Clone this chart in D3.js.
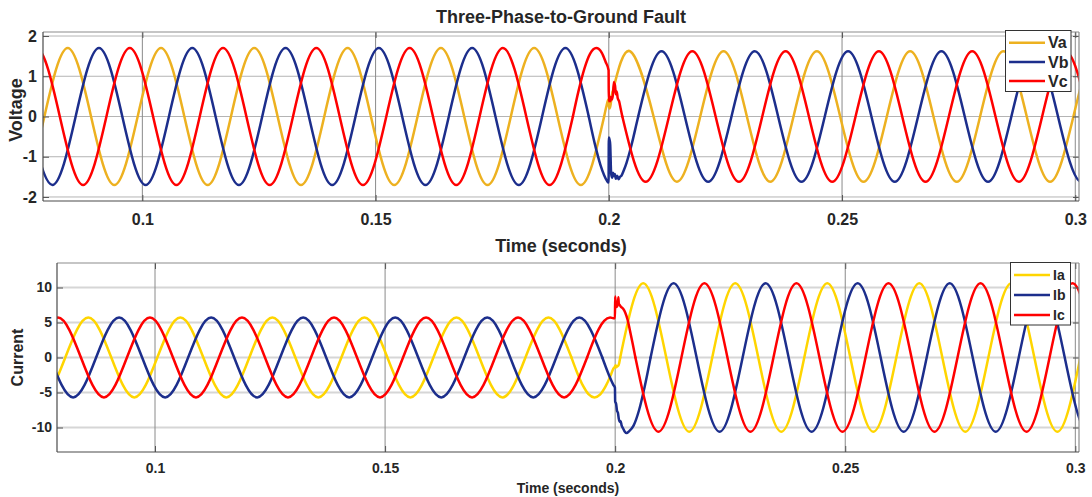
<!DOCTYPE html>
<html>
<head>
<meta charset="utf-8">
<script src="https://cdn.jsdelivr.net/npm/d3@7"></script>
<style>
  html, body { margin: 0; padding: 0; background: #ffffff; }
  svg { display: block; font-family: "Liberation Sans", Arial, sans-serif; }
</style>
</head>
<body>
<svg id="chart" width="1092" height="497"></svg>
<script>
// ---- Axis ranges and tick labels ----
const timeDomain = [0.0787, 0.3008];
const timeTicks = [0.1, 0.15, 0.2, 0.25, 0.3];
const voltageDomain = [-2.1, 2.1];
const voltageTicks = [-2, -1, 0, 1, 2];
const currentDomain = [-13.5, 13.5];
const currentTicks = [-10, -5, 0, 5, 10];
const voltageNames = ["Va", "Vb", "Vc"];
const currentNames = ["Ia", "Ib", "Ic"];

// ---- Phase voltages [time s, value] : before, during and after the fault ----
const vaPre = [[0.069,0],[0.074,-1.7],[0.079,0],[0.084,1.7],[0.089,0],[0.094,-1.7],[0.099,0],[0.104,1.7],[0.109,0],[0.114,-1.7],[0.119,0],[0.124,1.7],[0.129,0],[0.134,-1.7],[0.139,0],[0.144,1.7],[0.149,0],[0.154,-1.7],[0.159,0],[0.164,1.7],[0.169,0],[0.174,-1.7],[0.179,0],[0.184,1.7],[0.189,0],[0.194,-1.7],[0.199,0]];
const vaFault = [[0.199,0],[0.1995,0.26],[0.1999,0.42],[0.2000,0.28],[0.2002,0.2],[0.2004,0.3],[0.2006,0.5],[0.2008,0.6]];
const vaPost = [[0.2008,0.6],[0.2046,1.62],[0.2096,0],[0.2146,-1.62],[0.2196,0],[0.2246,1.62],[0.2296,0],[0.2346,-1.62],[0.2396,0],[0.2446,1.62],[0.2496,0],[0.2546,-1.62],[0.2596,0],[0.2646,1.62],[0.2696,0],[0.2746,-1.62],[0.2796,0],[0.2846,1.62],[0.2896,0],[0.2946,-1.62],[0.2996,0],[0.3046,1.62],[0.3096,0]];

const vbPre = [[0.0757,0],[0.0807,-1.7],[0.0857,0],[0.0907,1.7],[0.0957,0],[0.1007,-1.7],[0.1057,0],[0.1107,1.7],[0.1157,0],[0.1207,-1.7],[0.1257,0],[0.1307,1.7],[0.1357,0],[0.1407,-1.7],[0.1457,0],[0.1507,1.7],[0.1557,0],[0.1607,-1.7],[0.1657,0],[0.1707,1.7],[0.1757,0],[0.1807,-1.7],[0.1857,0],[0.1907,1.7],[0.1957,0]];
const vbFault = [[0.1957,0],[0.1970,-0.68],[0.1982,-1.2],[0.1990,-1.46],[0.1996,-1.6],[0.19995,-1.64],[0.2000,-0.52],[0.2002,-0.6],[0.2003,-0.7],[0.2005,-1.42],[0.2007,-1.52],[0.2009,-1.4],[0.2011,-1.48],[0.2013,-1.43],[0.2015,-1.55],[0.2018,-1.47],[0.2021,-1.56],[0.2024,-1.5],[0.2027,-1.47],[0.2032,-1.34],[0.2038,-1.15],[0.2045,-0.87],[0.2052,-0.55],[0.2058,-0.25],[0.2063,0]];
const vbPost = [[0.2063,0],[0.2113,1.62],[0.2163,0],[0.2213,-1.62],[0.2263,0],[0.2313,1.62],[0.2363,0],[0.2413,-1.62],[0.2463,0],[0.2513,1.62],[0.2563,0],[0.2613,-1.62],[0.2663,0],[0.2713,1.62],[0.2763,0],[0.2813,-1.62],[0.2863,0],[0.2913,1.62],[0.2963,0],[0.3013,-1.62],[0.3063,0]];

const vcPre = [[0.0723,0],[0.0773,1.7],[0.0823,0],[0.0873,-1.7],[0.0923,0],[0.0973,1.7],[0.1023,0],[0.1073,-1.7],[0.1123,0],[0.1173,1.7],[0.1223,0],[0.1273,-1.7],[0.1323,0],[0.1373,1.7],[0.1423,0],[0.1473,-1.7],[0.1523,0],[0.1573,1.7],[0.1623,0],[0.1673,-1.7],[0.1723,0],[0.1773,1.7],[0.1823,0],[0.1873,-1.7],[0.1923,0]];
const vcFault = [[0.1923,0],[0.1935,0.63],[0.1948,1.2],[0.1960,1.56],[0.1973,1.7],[0.1985,1.58],[0.1993,1.36],[0.19995,1.15],[0.2000,0.38],[0.2002,0.5],[0.2003,0.38],[0.2005,0.48],[0.2007,0.42],[0.2009,0.56],[0.2011,0.86],[0.2012,0.68],[0.2013,0.82],[0.2015,0.55],[0.2017,0.62],[0.2019,0.46],[0.2022,0.38],[0.2025,0.22],[0.2029,0]];
const vcPost = [[0.2029,0],[0.2079,-1.62],[0.2129,0],[0.2179,1.62],[0.2229,0],[0.2279,-1.62],[0.2329,0],[0.2379,1.62],[0.2429,0],[0.2479,-1.62],[0.2529,0],[0.2579,1.62],[0.2629,0],[0.2679,-1.62],[0.2729,0],[0.2779,1.62],[0.2829,0],[0.2879,-1.62],[0.2929,0],[0.2979,1.62],[0.3029,0],[0.3079,-1.62],[0.3129,0]];

// ---- Phase currents [time s, value] ----
const iaPre = [[0.0705,0],[0.0755,-5.7],[0.0805,0],[0.0855,5.7],[0.0905,0],[0.0955,-5.7],[0.1005,0],[0.1055,5.7],[0.1105,0],[0.1155,-5.7],[0.1205,0],[0.1255,5.7],[0.1305,0],[0.1355,-5.7],[0.1405,0],[0.1455,5.7],[0.1505,0],[0.1555,-5.7],[0.1605,0],[0.1655,5.7],[0.1705,0],[0.1755,-5.7],[0.1805,0],[0.1855,5.7],[0.1905,0]];
const iaFault = [[0.1905,0],[0.1917,-2.1],[0.1930,-4.03],[0.1942,-5.23],[0.1955,-5.7],[0.1967,-5.3],[0.1980,-4.03],[0.1990,-2.59],[0.1996,-1.6],[0.19995,-1.3],[0.2001,-1.1],[0.2003,-1.4],[0.2005,-1.2],[0.2007,-1.2],[0.2009,-0.7],[0.2011,0]];
const iaPost = [[0.2011,0],[0.2061,10.6],[0.2111,0],[0.2161,-10.6],[0.2211,0],[0.2261,10.6],[0.2311,0],[0.2361,-10.6],[0.2411,0],[0.2461,10.6],[0.2511,0],[0.2561,-10.6],[0.2611,0],[0.2661,10.6],[0.2711,0],[0.2761,-10.6],[0.2811,0],[0.2861,10.6],[0.2911,0],[0.2961,-10.6],[0.3011,0],[0.3061,10.6],[0.3111,0]];

const ibPre = [[0.0772,0],[0.0822,-5.7],[0.0872,0],[0.0922,5.7],[0.0972,0],[0.1022,-5.7],[0.1072,0],[0.1122,5.7],[0.1172,0],[0.1222,-5.7],[0.1272,0],[0.1322,5.7],[0.1372,0],[0.1422,-5.7],[0.1472,0],[0.1522,5.7],[0.1572,0],[0.1622,-5.7],[0.1672,0],[0.1722,5.7],[0.1772,0],[0.1822,-5.7],[0.1872,0],[0.1922,5.7],[0.1972,0]];
const ibFault = [[0.1972,0],[0.1980,-1.42],[0.1988,-2.75],[0.1996,-3.9],[0.19995,-4.3],[0.2000,-6.3],[0.2002,-6.6],[0.2004,-7.6],[0.2006,-7.9],[0.2008,-8.8],[0.2010,-9.2],[0.2012,-9.1],[0.2014,-9.7],[0.2017,-10.1],[0.2021,-10.6],[0.2025,-10.8],[0.2030,-10.55],[0.2040,-9.73],[0.2052,-7.5],[0.2064,-4.21],[0.2077,0]];
const ibPost = [[0.2077,0],[0.2127,10.6],[0.2177,0],[0.2227,-10.6],[0.2277,0],[0.2327,10.6],[0.2377,0],[0.2427,-10.6],[0.2477,0],[0.2527,10.6],[0.2577,0],[0.2627,-10.6],[0.2677,0],[0.2727,10.6],[0.2777,0],[0.2827,-10.6],[0.2877,0],[0.2927,10.6],[0.2977,0],[0.3027,-10.6],[0.3077,0]];

const icPre = [[0.0739,0],[0.0789,5.7],[0.0839,0],[0.0889,-5.7],[0.0939,0],[0.0989,5.7],[0.1039,0],[0.1089,-5.7],[0.1139,0],[0.1189,5.7],[0.1239,0],[0.1289,-5.7],[0.1339,0],[0.1389,5.7],[0.1439,0],[0.1489,-5.7],[0.1539,0],[0.1589,5.7],[0.1639,0],[0.1689,-5.7],[0.1739,0],[0.1789,5.7],[0.1839,0],[0.1889,-5.7],[0.1939,0]];
const icFault = [[0.1939,0],[0.1952,2.26],[0.1964,4.03],[0.1976,5.23],[0.1989,5.7],[0.1996,5.62],[0.19995,5.6],[0.2000,8.7],[0.2001,7.6],[0.2003,7.2],[0.2004,8.0],[0.2005,7.3],[0.2007,8.6],[0.2008,7.6],[0.2010,7.5],[0.2012,7.3],[0.2017,7.0],[0.2022,6.4],[0.2027,5.4],[0.2032,3.9],[0.2038,1.99],[0.2044,0]];
const icPost = [[0.2044,0],[0.2094,-10.6],[0.2144,0],[0.2194,10.6],[0.2244,0],[0.2294,-10.6],[0.2344,0],[0.2394,10.6],[0.2444,0],[0.2494,-10.6],[0.2544,0],[0.2594,10.6],[0.2644,0],[0.2694,-10.6],[0.2744,0],[0.2794,10.6],[0.2844,0],[0.2894,-10.6],[0.2944,0],[0.2994,10.6],[0.3044,0],[0.3094,-10.6],[0.3144,0]];

// ---- Styling ----
const voltageColors = ["#EDB120", "#1C2E8C", "#FF0000"];
const currentColors = ["#FFD500", "#1C2E8C", "#FF0000"];
const textColor = "#262626";

const svg = d3.select("#chart");
svg.append("rect").attr("width", 1092).attr("height", 497).attr("fill", "#ffffff");

function drawPanel(cfg) {
  const g = svg.append("g");
  const x = d3.scaleLinear().domain(timeDomain).range([cfg.left, cfg.right]);
  const y = d3.scaleLinear().domain(cfg.yDomain).range([cfg.bottom, cfg.top]);
  const w = cfg.right - cfg.left, h = cfg.bottom - cfg.top;

  svg.append("clipPath").attr("id", cfg.id + "-clip")
    .append("rect").attr("x", cfg.left).attr("y", cfg.top).attr("width", w).attr("height", h);

  // grid lines
  g.append("g").selectAll("line").data(cfg.yTicks).join("line")
    .attr("x1", cfg.left).attr("x2", cfg.right)
    .attr("y1", d => y(d)).attr("y2", d => y(d))
    .attr("stroke", cfg.hGridColor).attr("stroke-width", cfg.hGridWidth);
  g.append("g").selectAll("line").data(timeTicks).join("line")
    .attr("x1", d => x(d)).attr("x2", d => x(d))
    .attr("y1", cfg.top).attr("y2", cfg.bottom)
    .attr("stroke", cfg.vGridColor).attr("stroke-width", 1);

  // waveforms
  const smooth = d3.line().x(d => x(d[0])).y(d => y(d[1])).curve(d3.curveNatural);
  const jagged = d3.line().x(d => x(d[0])).y(d => y(d[1])).curve(d3.curveMonotoneX);
  const plot = g.append("g").attr("clip-path", `url(#${cfg.id}-clip)`);
  cfg.series.forEach((s, i) => {
    const sg = plot.append("g")
      .attr("fill", "none").attr("stroke", cfg.colors[i])
      .attr("stroke-width", 2.5).attr("stroke-linejoin", "round").attr("stroke-linecap", "round");
    sg.append("path").attr("d", smooth(s.pre));
    sg.append("path").attr("d", jagged(s.fault));
    sg.append("path").attr("d", smooth(s.post));
  });

  // axes: inward ticks on all four sides, labels on left and bottom
  const fmt = d => String(d);
  const axes = [
    { gen: d3.axisLeft(y).tickValues(cfg.yTicks).tickFormat(fmt).tickPadding(cfg.yPad), tr: `translate(${cfg.left},0)` },
    { gen: d3.axisRight(y).tickValues(cfg.yTicks).tickFormat(""), tr: `translate(${cfg.right},0)` },
    { gen: d3.axisBottom(x).tickValues(timeTicks).tickFormat(fmt).tickPadding(cfg.xPad), tr: `translate(0,${cfg.bottom})` },
    { gen: d3.axisTop(x).tickValues(timeTicks).tickFormat(""), tr: `translate(0,${cfg.top})` }
  ];
  axes.forEach(a => {
    const ag = g.append("g").attr("transform", a.tr)
      .call(a.gen.tickSizeInner(-6).tickSizeOuter(0));
    ag.select(".domain").remove();
    ag.selectAll(".tick line").attr("stroke", "#555").attr("stroke-width", 1);
    ag.selectAll(".tick text")
      .attr("fill", textColor).attr("font-size", cfg.tickFont).attr("font-weight", "bold")
      .attr("font-family", '"Liberation Sans", Arial, sans-serif');
  });

  // axes box
  g.append("line").attr("x1", cfg.left).attr("x2", cfg.right).attr("y1", cfg.top).attr("y2", cfg.top)
    .attr("stroke", "#8c8c8c").attr("stroke-width", 1.2);
  g.append("line").attr("x1", cfg.right).attr("x2", cfg.right).attr("y1", cfg.top).attr("y2", cfg.bottom)
    .attr("stroke", "#8c8c8c").attr("stroke-width", 1.2);
  g.append("line").attr("x1", cfg.left).attr("x2", cfg.left).attr("y1", cfg.top).attr("y2", cfg.bottom)
    .attr("stroke", "#4a4a4a").attr("stroke-width", 1.2);
  g.append("line").attr("x1", cfg.left).attr("x2", cfg.right).attr("y1", cfg.bottom).attr("y2", cfg.bottom)
    .attr("stroke", "#4a4a4a").attr("stroke-width", 1.2);

  // axis titles
  g.append("text")
    .attr("transform", `translate(${cfg.yLabelX},${cfg.yLabelY}) rotate(-90)`)
    .attr("text-anchor", "middle").attr("font-size", cfg.yLabelFont).attr("font-weight", "bold")
    .attr("fill", textColor).text(cfg.yLabel);
  g.append("text")
    .attr("x", (cfg.left + cfg.right) / 2).attr("y", cfg.xLabelY)
    .attr("text-anchor", "middle").attr("font-size", cfg.xLabelFont).attr("font-weight", "bold")
    .attr("fill", textColor).text("Time (seconds)");

  // legend
  const L = cfg.legend;
  const lg = g.append("g");
  lg.append("rect").attr("x", L.x).attr("y", L.y).attr("width", L.w).attr("height", L.h)
    .attr("fill", "#ffffff").attr("stroke", "#333").attr("stroke-width", 1);
  cfg.names.forEach((name, i) => {
    const ry = L.y + L.firstRow + i * L.rowGap;
    lg.append("line").attr("x1", L.x + L.lineStart).attr("x2", L.x + L.lineEnd)
      .attr("y1", ry).attr("y2", ry)
      .attr("stroke", cfg.colors[i]).attr("stroke-width", 2.5);
    lg.append("text").attr("x", L.x + L.textX).attr("y", ry).attr("dy", "0.36em")
      .attr("font-size", L.font).attr("font-weight", "bold").attr("fill", textColor).text(name);
  });

  return { x, y };
}

drawPanel({
  id: "voltage", left: 43, right: 1079, top: 32, bottom: 201,
  yDomain: voltageDomain, yTicks: voltageTicks,
  hGridColor: "#b4b4b4", hGridWidth: 1, vGridColor: "#8a8a8a",
  colors: voltageColors, names: voltageNames,
  series: [
    { pre: vaPre, fault: vaFault, post: vaPost },
    { pre: vbPre, fault: vbFault, post: vbPost },
    { pre: vcPre, fault: vcFault, post: vcPost }
  ],
  yPad: 6, xPad: 13, tickFont: "16px",
  yLabel: "Voltage", yLabelX: 22, yLabelY: 110, yLabelFont: "18px",
  xLabelY: 252, xLabelFont: "18px",
  legend: { x: 1005.5, y: 30.5, w: 65.5, h: 61, firstRow: 12.2, rowGap: 19.2,
            lineStart: 3.5, lineEnd: 39.5, textX: 42.5, font: "16px" }
});

drawPanel({
  id: "current", left: 57, right: 1079, top: 263, bottom: 452,
  yDomain: currentDomain, yTicks: currentTicks,
  hGridColor: "#d6d6d6", hGridWidth: 2, vGridColor: "#8a8a8a",
  colors: currentColors, names: currentNames,
  series: [
    { pre: iaPre, fault: iaFault, post: iaPost },
    { pre: ibPre, fault: ibFault, post: ibPost },
    { pre: icPre, fault: icFault, post: icPost }
  ],
  yPad: 5, xPad: 11, tickFont: "14px",
  yLabel: "Current", yLabelX: 22.5, yLabelY: 357.5, yLabelFont: "16px",
  xLabelY: 493, xLabelFont: "14px",
  legend: { x: 1010.5, y: 262.5, w: 60, h: 62.5, firstRow: 12.5, rowGap: 20,
            lineStart: 3.5, lineEnd: 39.5, textX: 42.5, font: "14px" }
});

// chart title
svg.append("text").attr("x", 561).attr("y", 23).attr("text-anchor", "middle")
  .attr("font-size", "18px").attr("font-weight", "bold").attr("fill", textColor)
  .text("Three-Phase-to-Ground Fault");
</script>
</body>
</html>
